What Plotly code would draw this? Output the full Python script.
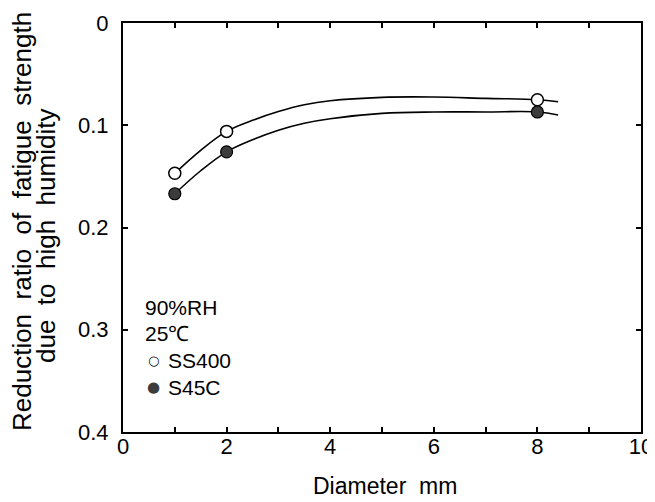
import plotly.graph_objects as go

# Measured points
diam = [1, 2, 8]
ss400 = [0.147, 0.106, 0.075]
s45c = [0.167, 0.126, 0.087]

# Fitted curves
curve_x = [1, 1.5, 2, 2.5, 3, 3.5, 4, 5, 6, 7, 8, 8.4]
curve_y_ss400 = [0.147, 0.1245, 0.106, 0.0952, 0.0866, 0.080, 0.076, 0.0727, 0.0724, 0.0737, 0.075, 0.077]
curve_y_s45c = [0.167, 0.1445, 0.126, 0.1142, 0.1048, 0.098, 0.0936, 0.0884, 0.087, 0.087, 0.087, 0.090]

x_tickvals = [0, 1, 2, 3, 4, 5, 6, 7, 8, 9, 10]
x_ticktext = ["0", "", "2", "", "4", "", "6", "", "8", "", "10"]
y_tickvals = [0, 0.1, 0.2, 0.3, 0.4]
y_ticktext = ["0", "0.1", "0.2", "0.3", "0.4"]

legend_lines = ["90%RH", "25℃"]
series_names = ["SS400", "S45C"]
x_title = "Diameter  mm"
y_title_lines = ["Reduction  ratio  of  fatigue  strength", "due  to  high  humidity"]

FONT = "Liberation Sans, Arial, sans-serif"

fig = go.Figure()
fig.add_trace(go.Scatter(x=curve_x, y=curve_y_ss400, mode="lines",
                         line=dict(color="black", width=1.6, shape="spline", smoothing=1.1),
                         showlegend=False, hoverinfo="skip"))
fig.add_trace(go.Scatter(x=curve_x, y=curve_y_s45c, mode="lines",
                         line=dict(color="black", width=1.6, shape="spline", smoothing=1.1),
                         showlegend=False, hoverinfo="skip"))
fig.add_trace(go.Scatter(x=diam, y=ss400, mode="markers", name=series_names[0],
                         marker=dict(symbol="circle", size=12, color="white",
                                     line=dict(color="black", width=1.5)),
                         showlegend=False))
fig.add_trace(go.Scatter(x=diam, y=s45c, mode="markers", name=series_names[1],
                         marker=dict(symbol="circle", size=12, color="#3c3c3c",
                                     line=dict(color="black", width=1.2)),
                         showlegend=False))

# page body has an 8px default margin
OFF = 8
W, H = 655 - OFF, 502 - OFF
# plot area in screen pixels
SX0, SX1, SY0, SY1 = 123, 641, 23, 432
L = SX0 - OFF
R = W - (SX1 - OFF)
T = SY0 - OFF
B = H - (SY1 - OFF)
pw = SX1 - SX0
ph = SY1 - SY0

def px(xp):
    return (xp - SX0) / pw

def py(yp):
    return (SY1 - yp) / ph

def txt(x, y, text, size, xanchor="left", color="black", family=FONT, angle=0):
    return dict(x=px(x), y=py(y), xref="paper", yref="paper", text=text,
                showarrow=False, xanchor=xanchor, yanchor="middle", textangle=angle,
                font=dict(family=family, size=size, color=color))

ann = [
    txt(143, 307, legend_lines[0], 21),
    txt(143, 333, legend_lines[1], 21),
    txt(166, 360, series_names[0], 21),
    txt(166, 387, series_names[1], 21),
    txt(153, 360, "○", 13, xanchor="center", family="DejaVu Sans"),
    txt(153, 387, "●", 15, xanchor="center", color="#3c3c3c", family="DejaVu Sans"),
    txt(385, 486, x_title, 23, xanchor="center"),
    txt(22, 222, y_title_lines[0], 26, xanchor="center", angle=-90),
    txt(46, 236, y_title_lines[1], 26, xanchor="center", angle=-90),
]

fig.update_layout(
    width=W, height=H,
    margin=dict(l=L, r=R, t=T, b=B, autoexpand=False),
    paper_bgcolor="white", plot_bgcolor="white",
    showlegend=False,
    annotations=ann,
    font=dict(family=FONT, color="black"),
)
fig.update_xaxes(
    range=[0, 10], tickvals=x_tickvals, ticktext=x_ticktext,
    ticks="inside", ticklen=5, tickwidth=1.5, tickcolor="black",
    showline=True, linecolor="black", linewidth=2, mirror="ticks",
    showgrid=False, zeroline=False, ticklabeloverflow="allow",
    ticklabelstandoff=-6,
    tickfont=dict(family=FONT, size=22, color="black"),
    automargin=False,
)
fig.update_yaxes(
    range=[0.4, 0], tickvals=y_tickvals, ticktext=y_ticktext,
    ticks="inside", ticklen=5, tickwidth=1.5, tickcolor="black",
    showline=True, linecolor="black", linewidth=2, mirror="ticks",
    showgrid=False, zeroline=False, ticklabeloverflow="allow",
    ticklabelstandoff=8,
    tickfont=dict(family=FONT, size=22, color="black"),
    automargin=False,
)

fig.write_html("out.html")
